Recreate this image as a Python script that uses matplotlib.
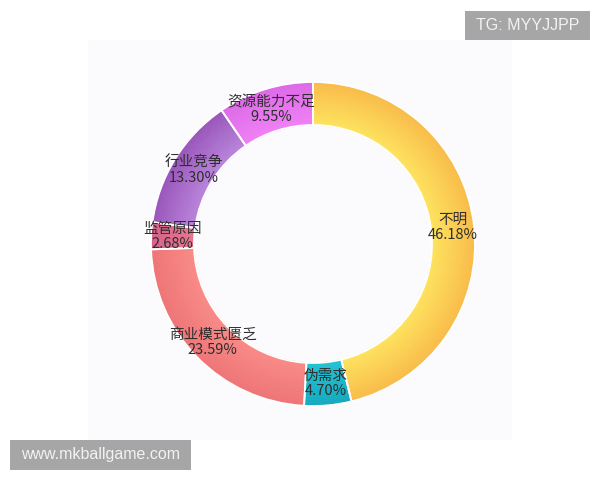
import matplotlib
matplotlib.use("Agg")
import matplotlib.pyplot as plt
from matplotlib.patches import Rectangle
import numpy as np

plt.rcParams['font.family'] = ['Noto Sans CJK SC', 'DejaVu Sans']

# ---- data ----
categories = ['不明', '伪需求', '商业模式匮乏', '监管原因', '行业竞争', '资源能力不足']
values = [46.18, 4.70, 23.59, 2.68, 13.30, 9.55]
inner_colors = ['#fee35e', '#22c2d4', '#f88b87', '#e8768f', '#b985db', '#f080f6']
outer_colors = ['#f8bb49', '#15a9be', '#ee7476', '#d6618a', '#9955ba', '#dc69e6']

W, H = 600, 480
fig = plt.figure(figsize=(6, 4.8), dpi=100)
ax = fig.add_axes([0, 0, 1, 1])

def py(y):
    return H - y

# faint background panel
ax.add_patch(Rectangle((88, py(440)), 424, 400, facecolor='#fbfafc', edgecolor='none', zorder=0))

cx, cy = 313, py(244)
R_out, R_in = 162, 119
ring_w = R_out - R_in

def mix(c1, c2, t):
    a = np.array(matplotlib.colors.to_rgb(c1))
    b = np.array(matplotlib.colors.to_rgb(c2))
    return tuple(a + (b - a) * t)

n = 28
step = ring_w / n
wedges = None
for i in range(n):
    r = R_out - i * step
    t = 1 - (i + 0.5) / n
    cols = [mix(ic, oc, t) for ic, oc in zip(inner_colors, outer_colors)]
    w, _ = ax.pie(values, colors=cols, startangle=90, counterclock=False,
                  center=(cx, cy), radius=r, frame=True,
                  wedgeprops=dict(width=step + 0.6, linewidth=0, antialiased=True))
    if wedges is None:
        wedges = w

# white separators
ax.pie(values, colors=['none'] * len(values), startangle=90, counterclock=False,
       center=(cx, cy), radius=R_out, frame=True,
       wedgeprops=dict(width=ring_w, linewidth=1.3, edgecolor='white', facecolor='none'))

ax.set_xlim(0, W)
ax.set_ylim(0, H)
ax.set_aspect('equal')
ax.axis('off')

# labels at ring middle
r_lab = (R_out + R_in) / 2
for wdg, cat, v in zip(wedges, categories, values):
    ang = np.deg2rad((wdg.theta1 + wdg.theta2) / 2)
    x = cx + r_lab * np.cos(ang)
    y = cy + r_lab * np.sin(ang)
    ax.text(x, y, f"{cat}\n{v:.2f}%", ha='center', va='center', fontsize=10.5,
            fontweight='light', color='#2e2e2e', linespacing=1.1, zorder=5)

# watermark boxes
ax.add_patch(Rectangle((465, py(40)), 125, 29, facecolor='#a6a6a6', edgecolor='none', zorder=6))
ax.text(527.5, py(25.5), 'TG: MYYJJPP', ha='center', va='center', fontsize=11.5,
        color='#f2f2f2', family=['Liberation Sans', 'DejaVu Sans'], zorder=7)
ax.add_patch(Rectangle((10, py(470)), 181, 30, facecolor='#a6a6a6', edgecolor='none', zorder=6))
ax.text(100.5, py(455), 'www.mkballgame.com', ha='center', va='center', fontsize=11.5,
        color='#f2f2f2', family=['Liberation Sans', 'DejaVu Sans'], zorder=7)

fig.savefig('out.png', dpi=100)
